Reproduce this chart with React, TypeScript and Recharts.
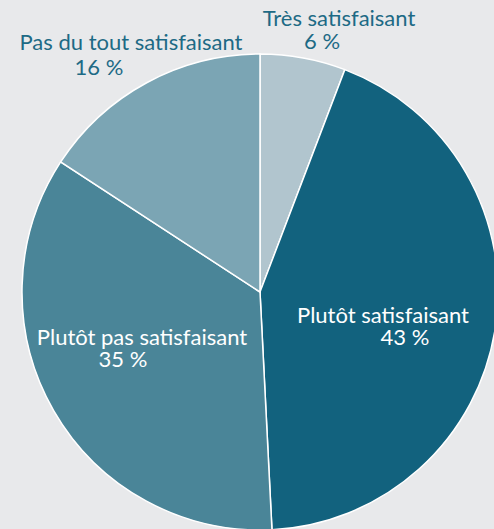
import React from "react";
import { PieChart, Pie, Cell } from "recharts";

// satisfaction categories, clockwise from 12 o'clock
const categories = [
  "Très satisfaisant",
  "Plutôt satisfaisant",
  "Plutôt pas satisfaisant",
  "Pas du tout satisfaisant",
];
const shares = [5.8, 43.4, 35.0, 15.8];
const colors = ["#b1c5ce", "#12627e", "#4a8598", "#7ba5b4"];

const data = categories.map((name, i) => ({ name, value: shares[i] }));

const CX = 260;
const CY = 292;
const FONT = "Lato, 'Noto Sans', sans-serif";
const FS = 22;

// label placement relative to the pie centre: [x1, y1, x2, y2, inside]
const labelLayout: Record<string, [number, number, number, number, boolean]> = {
  "Très satisfaisant": [79, -266, 62, -243, false],
  "Plutôt satisfaisant": [123, 31, 145, 53, true],
  "Plutôt pas satisfaisant": [-118, 53, -137, 75, true],
  "Pas du tout satisfaisant": [-129, -242, -161, -217, false],
};

const renderLabel = (props: any) => {
  const { cx, cy, name, value } = props;
  const l = labelLayout[name];
  if (!l) return null;
  const fill = l[4] ? "#ffffff" : "#1d6a85";
  return (
    <g>
      <text x={cx + l[0]} y={cy + l[1]} textAnchor="middle" fill={fill} fontSize={FS} fontFamily={FONT}>
        {name}
      </text>
      <text x={cx + l[2]} y={cy + l[3]} textAnchor="middle" fill={fill} fontSize={FS} fontFamily={FONT}>
        {Math.round(value)} %
      </text>
    </g>
  );
};

export default function App() {
  return (
    <div style={{ position: "absolute", left: 0, top: 0, width: 494, height: 529, background: "#e8e9eb", overflow: "hidden" }}>
      <PieChart width={494} height={529} margin={{ top: 0, right: 0, bottom: 0, left: 0 }}>
        <Pie
          data={data}
          dataKey="value"
          nameKey="name"
          cx={CX}
          cy={CY}
          outerRadius={238}
          startAngle={90}
          endAngle={-270}
          stroke="#ffffff"
          strokeWidth={1.5}
          label={renderLabel}
          labelLine={false}
          isAnimationActive={false}
        >
          {data.map((d, i) => (
            <Cell key={d.name} fill={colors[i]} />
          ))}
        </Pie>
      </PieChart>
    </div>
  );
}
